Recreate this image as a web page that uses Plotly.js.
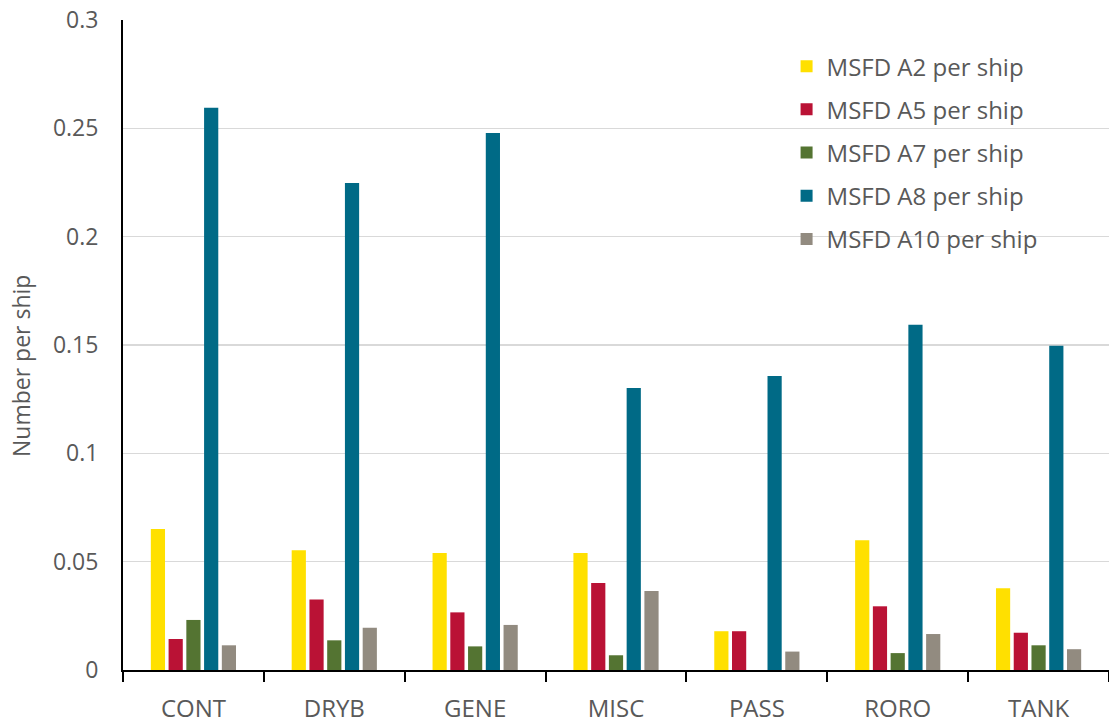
<!DOCTYPE html>
<html>
<head>
<meta charset="utf-8">
<script src="https://cdn.plot.ly/plotly-3.0.1.min.js"></script>
<style>html,body{margin:0;padding:0;background:#fff;}#chart{width:1109px;height:724px;}</style>
</head>
<body>
<div id="chart"></div>
<script>
const categories = ["CONT", "DRYB", "GENE", "MISC", "PASS", "RORO", "TANK"];
const seriesNames = ["MSFD A2 per ship", "MSFD A5 per ship", "MSFD A7 per ship", "MSFD A8 per ship", "MSFD A10 per ship"];
const a2  = [0.0651, 0.0553, 0.0540, 0.0540, 0.0179, 0.0599, 0.0377];
const a5  = [0.0143, 0.0325, 0.0266, 0.0402, 0.0179, 0.0294, 0.0172];
const a7  = [0.0231, 0.0137, 0.0109, 0.0068, 0,      0.0078, 0.0114];
const a8  = [0.2595, 0.2248, 0.2479, 0.1302, 0.1357, 0.1593, 0.1496];
const a10 = [0.0114, 0.0195, 0.0208, 0.0365, 0.0085, 0.0166, 0.0096];
const seriesValues = [a2, a5, a7, a8, a10];
const colors = ["#FFE000", "#BA1235", "#547432", "#006A86", "#928B80"];
const yTicks = [0, 0.05, 0.1, 0.15, 0.2, 0.25, 0.3];
const yTickText = ["0", "0.05", "0.1", "0.15", "0.2", "0.25", "0.3"];
const yTitle = "Number per ship";

const txt = "#595959";
const font = "Open Sans, sans-serif";

const traces = seriesNames.map((n, i) => ({
  type: "bar",
  name: n,
  x: categories,
  y: seriesValues[i],
  marker: {color: colors[i], line: {width: 0}},
  legendgroup: "g" + i,
  hoverinfo: "x+y+name"
}));

const layout = {
  width: 1109, height: 724,
  margin: {l: 123, r: 0, t: 20, b: 54},
  paper_bgcolor: "#fff", plot_bgcolor: "#fff",
  font: {family: font, color: txt, size: 24},
  barmode: "group",
  bargap: 0.37,
  bargroupgap: 0.2,
  showlegend: true,
  legend: {
    x: 0.673, xanchor: "left",
    y: 0.963, yanchor: "top",
    bgcolor: "rgba(0,0,0,0)",
    font: {family: font, size: 24, color: txt},
    traceorder: "grouped",
    tracegroupgap: 9
  },
  shapes: [{
    type: "rect", xref: "paper", yref: "paper",
    x0: (754 - 123) / 986, x1: (1091 - 123) / 986,
    y0: 0.64, y1: 0.96,
    fillcolor: "#fff", line: {width: 0}, layer: "between"
  }],
  annotations: [{
    text: yTitle, textangle: -90,
    xref: "paper", yref: "paper",
    x: (21 - 123) / 986, xanchor: "center",
    y: (670 - 366) / 650, yanchor: "middle",
    showarrow: false,
    font: {family: font, size: 23, color: txt}
  }],
  xaxis: {
    type: "category",
    showline: true, linecolor: "#000", linewidth: 2,
    ticks: "outside", tickson: "boundaries", ticklen: 10, tickwidth: 2, tickcolor: "#000",
    ticklabelstandoff: 16,
    tickfont: {family: font, size: 24, color: txt},
    showgrid: false, zeroline: false
  },
  yaxis: {
    range: [0, 0.3],
    tickvals: yTicks, ticktext: yTickText,
    showline: true, linecolor: "#000", linewidth: 2,
    ticks: "", ticklabelstandoff: 18,
    tickfont: {family: font, size: 23, color: txt},
    showgrid: true, gridcolor: "#D9D9D9", gridwidth: 1.5,
    zeroline: false
  }
};

Plotly.newPlot("chart", traces, layout, {displayModeBar: false, staticPlot: true});
</script>
</body>
</html>
